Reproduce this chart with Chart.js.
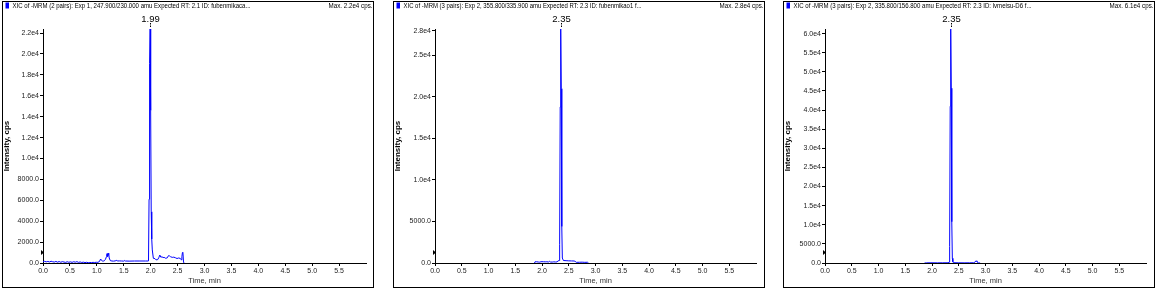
<!DOCTYPE html>
<html>
<head>
<meta charset="utf-8">
<script src="https://cdn.jsdelivr.net/npm/chart.js@4.4.1/dist/chart.umd.min.js"></script>
<style>
  html, body { margin: 0; padding: 0; background: #fff; }
  body { width: 1157px; height: 291px; position: relative; overflow: hidden; }
  canvas { position: absolute; top: 0; }
</style>
</head>
<body>
<canvas id="c1"></canvas>
<canvas id="c2"></canvas>
<canvas id="c3"></canvas>
<script>
// header texts
const titles = [
    'XIC of -MRM (2 pairs): Exp 1, 247.900/230.000 amu Expected RT: 2.1 ID: fubenmikaca...',
    'XIC of -MRM (3 pairs): Exp 2, 355.800/335.900 amu Expected RT: 2.3 ID: fubenmikao1 f...',
    'XIC of -MRM (3 pairs): Exp 2, 335.800/156.800 amu Expected RT: 2.3 ID: lvmeisu-D6 f...'
];
const maxLabels = ['Max. 2.2e4 cps.', 'Max. 2.8e4 cps.', 'Max. 6.1e4 cps.'];
const peakLabels = ['1.99', '2.35', '2.35'];
const peakTimes = [1.99, 2.35, 2.35];
const thresholds = [1050, 1330, 2880];
const yMax = [22390, 28190, 61200];

// x axis
const xTicks = [0, 0.5, 1, 1.5, 2, 2.5, 3, 3.5, 4, 4.5, 5, 5.5];
const xTickLabels = ['0.0', '0.5', '1.0', '1.5', '2.0', '2.5', '3.0', '3.5', '4.0', '4.5', '5.0', '5.5'];

// panel 1
const times1 = [0.00, 0.03, 0.06, 0.09, 0.12, 0.15, 0.18, 0.21, 0.24, 0.27, 0.30, 0.33, 0.36, 0.39, 0.42, 0.45, 0.48, 0.51, 0.54, 0.57,
    0.60, 0.63, 0.66, 0.69, 0.72, 0.75, 0.78, 0.81, 0.84, 0.87, 0.90, 0.93, 0.96, 0.99, 1.02, 1.05, 1.07, 1.08, 1.10, 1.12,
    1.14, 1.16, 1.18, 1.19, 1.20, 1.21, 1.22, 1.23, 1.25, 1.28, 1.31, 1.34, 1.37, 1.38, 1.42, 1.46, 1.50, 1.52, 1.53, 1.60,
    1.70, 1.80, 1.90, 1.95, 1.96, 1.97, 1.98, 1.99, 2.00, 2.01, 2.02, 2.03, 2.05, 2.08, 2.10, 2.13, 2.15, 2.17, 2.19, 2.21,
    2.23, 2.25, 2.28, 2.31, 2.33, 2.35, 2.37, 2.40, 2.43, 2.46, 2.49, 2.52, 2.55, 2.57, 2.58, 2.59, 2.60, 2.61, 2.62];
const intensity1 = [130, 160, 110, 150, 100, 170, 120, 90, 150, 80, 140, 70, 130, 90, 60, 120, 70, 110, 60, 120,
    80, 130, 60, 100, 50, 80, 40, 70, 30, 50, 40, 60, 50, 70, 60, 150, 380, 300, 200, 180,
    220, 350, 620, 900, 620, 780, 950, 480, 230, 190, 180, 200, 260, 190, 200, 190, 180, 240, 190, 180,
    190, 190, 190, 190, 200, 6100, 19100, 22390, 14600, 4900, 2300, 1250, 450, 420, 300, 320, 500, 760, 550, 600,
    520, 540, 450, 500, 700, 680, 600, 540, 560, 500, 430, 480, 440, 300, 600, 1000, 950, 100, 0];
const yTicks1 = [0, 2000, 4000, 6000, 8000, 10000, 12000, 14000, 16000, 18000, 20000, 22000];
const yTickLabels1 = ['0.0', '2000.0', '4000.0', '6000.0', '8000.0', '1.0e4', '1.2e4', '1.4e4', '1.6e4', '1.8e4', '2.0e4', '2.2e4'];

// panel 2
const times2 = [1.86, 1.87, 1.90, 1.93, 1.95, 1.98, 2.00, 2.03, 2.06, 2.09, 2.12, 2.14, 2.16, 2.19, 2.22, 2.25, 2.28, 2.30, 2.32, 2.33,
    2.34, 2.35, 2.36, 2.37, 2.38, 2.40, 2.45, 2.50, 2.55, 2.60, 2.62, 2.64, 2.70, 2.75, 2.80, 2.85, 2.87];
const intensity2 = [0, 150, 150, 120, 100, 150, 160, 150, 140, 150, 120, 200, 120, 110, 140, 120, 130, 250, 300, 2200,
    18800, 28190, 21000, 4400, 600, 300, 280, 260, 250, 240, 200, 80, 90, 100, 80, 90, 0];
const yTicks2 = [0, 5000, 10000, 15000, 20000, 25000, 28000];
const yTickLabels2 = ['0.0', '5000.0', '1.0e4', '1.5e4', '2.0e4', '2.5e4', '2.8e4'];

// panel 3
const times3 = [1.86, 1.90, 2.00, 2.10, 2.20, 2.30, 2.32, 2.33, 2.34, 2.35, 2.36, 2.37, 2.38, 2.39, 2.40, 2.50, 2.60, 2.70, 2.78, 2.80,
    2.82, 2.83, 2.84, 2.85, 2.87, 2.90];
const intensity3 = [0, 40, 50, 40, 50, 60, 200, 4300, 41000, 61200, 45700, 10800, 1230, 300, 80, 50, 40, 50, 60, 200,
    550, 450, 560, 150, 40, 0];
const yTicks3 = [0, 5000, 10000, 15000, 20000, 25000, 30000, 35000, 40000, 45000, 50000, 55000, 60000];
const yTickLabels3 = ['0.0', '5000.0', '1.0e4', '1.5e4', '2.0e4', '2.5e4', '3.0e4', '3.5e4', '4.0e4', '4.5e4', '5.0e4', '5.5e4', '6.0e4'];

// layout
const panelLefts = [2, 393, 783];
const panelWidth = 372;
const panelHeight = 289;
const axisLeft = [41, 42, 42];
const padRight = [8, 9, 9];

Chart.defaults.font.family = '"Liberation Sans", Arial, sans-serif';

const framePlugin = {
    id: 'frame',
    afterDraw(chart, args, opts) {
        const { ctx, width } = chart;
        const p = opts.panel;
        const xs = chart.scales.x, ys = chart.scales.y;
        ctx.save();
        ctx.strokeStyle = '#000';
        ctx.lineWidth = 1;
        ctx.strokeRect(0.5, 1.5, width - 1, 286);

        ctx.fillStyle = '#0000ff';
        ctx.fillRect(3.5, 2.5, 3.5, 6);

        ctx.fillStyle = '#000';
        ctx.font = '7.5px "Liberation Sans"';
        ctx.textBaseline = 'middle';
        ctx.textAlign = 'left';
        ctx.fillText(titles[p], 10.5, 5.5, 238);
        ctx.textAlign = 'right';
        ctx.fillText(maxLabels[p], width - 1.5, 5.5, 44);

        // apex label
        const px = Math.round(xs.getPixelForValue(peakTimes[p])) + 0.5;
        ctx.textAlign = 'center';
        ctx.font = '9.5px "Liberation Sans"';
        ctx.fillText(peakLabels[p], px, 19);
        ctx.beginPath();
        ctx.moveTo(px, 23);
        ctx.lineTo(px, 24.5);
        ctx.moveTo(px, 25.5);
        ctx.lineTo(px, 27);
        ctx.stroke();

        // threshold marker on y axis
        const ty = Math.round(ys.getPixelForValue(thresholds[p])) + 0.5;
        const ax = xs.left;
        ctx.beginPath();
        ctx.moveTo(ax - 2, ty - 2.5);
        ctx.lineTo(ax + 1, ty);
        ctx.lineTo(ax - 2, ty + 2.5);
        ctx.closePath();
        ctx.fill();
        ctx.restore();
    }
};

function makeChart(id, p, times, values, yTicks, yTickLabels) {
    const canvas = document.getElementById(id);
    canvas.width = panelWidth;
    canvas.height = panelHeight;
    canvas.style.left = panelLefts[p] + 'px';

    return new Chart(canvas, {
        type: 'line',
        data: {
            datasets: [{
                data: times.map((t, i) => ({ x: t, y: values[i] })),
                borderColor: '#0000ff',
                borderWidth: 1,
                pointRadius: 0,
                tension: 0,
                fill: false
            }]
        },
        options: {
            responsive: false,
            animation: false,
            devicePixelRatio: 1,
            layout: { padding: { top: 29, right: padRight[p], left: 0, bottom: 0 } },
            plugins: {
                legend: { display: false },
                tooltip: { enabled: false },
                frame: { panel: p }
            },
            scales: {
                x: {
                    type: 'linear',
                    min: 0,
                    max: 6,
                    afterBuildTicks: s => { s.ticks = xTicks.map(v => ({ value: v })); },
                    afterFit: s => { s.height = 26; },
                    ticks: {
                        callback: (v, i) => xTickLabels[i],
                        maxRotation: 0,
                        autoSkip: false,
                        font: { size: 7 },
                        color: '#222',
                        padding: 1
                    },
                    grid: { drawOnChartArea: false, drawTicks: true, tickLength: 3, color: '#000', tickColor: '#000' },
                    border: { display: true, color: '#000', width: 1 },
                    title: {
                        display: true,
                        text: 'Time, min',
                        font: { size: 7.5 },
                        color: '#333',
                        padding: { top: 0, bottom: 3.5 }
                    }
                },
                y: {
                    type: 'linear',
                    min: 0,
                    max: yMax[p],
                    afterBuildTicks: s => { s.ticks = yTicks.map(v => ({ value: v })); },
                    afterFit: s => { s.width = axisLeft[p]; },
                    ticks: {
                        callback: (v, i) => yTickLabels[i],
                        autoSkip: false,
                        font: { size: 7 },
                        color: '#222',
                        padding: 1
                    },
                    grid: { drawOnChartArea: false, drawTicks: true, tickLength: 3, color: '#000', tickColor: '#000' },
                    border: { display: true, color: '#000', width: 1 },
                    title: {
                        display: true,
                        text: 'Intensity, cps',
                        font: { size: 8, weight: 'bold' },
                        color: '#000',
                        padding: { top: 0, bottom: 0 }
                    }
                }
            }
        },
        plugins: [framePlugin]
    });
}

makeChart('c1', 0, times1, intensity1, yTicks1, yTickLabels1);
makeChart('c2', 1, times2, intensity2, yTicks2, yTickLabels2);
makeChart('c3', 2, times3, intensity3, yTicks3, yTickLabels3);
</script>
</body>
</html>
